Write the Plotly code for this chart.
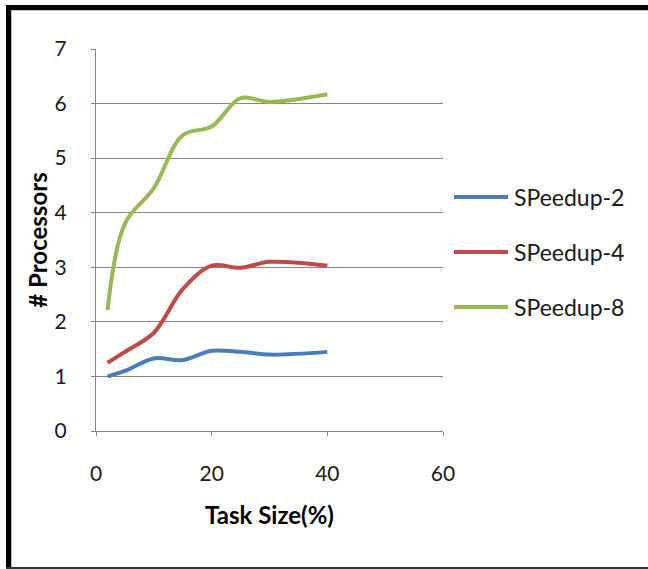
import plotly.graph_objects as go

# Task size (%) on the x axis
task_size = [2, 5, 10, 15, 20, 25, 30, 40]

# Speedup series
speedup_2 = [1.0, 1.1, 1.33, 1.3, 1.47, 1.45, 1.4, 1.45]
speedup_4 = [1.25, 1.45, 1.8, 2.6, 3.03, 2.99, 3.1, 3.03]
speedup_8 = [2.22, 3.8, 4.45, 5.42, 5.58, 6.1, 6.03, 6.17]

series_names = ["SPeedup-2", "SPeedup-4", "SPeedup-8"]
series_colors = ["#4A7EBB", "#BE4B48", "#98B954"]

x_ticks = [0, 20, 40, 60]
y_ticks = [0, 1, 2, 3, 4, 5, 6, 7]

W, H = 648, 569
L, R, T, B = 96, 443, 49, 431  # plot area in pixels
PW, PH = R - L, B - T


def px_x(px):
    return (px - L) / PW


def px_y(py):
    return (B - py) / PH


FONT = "Lato"

fig = go.Figure()
for name, vals, col in zip(series_names, [speedup_2, speedup_4, speedup_8], series_colors):
    fig.add_trace(go.Scatter(
        x=task_size, y=vals, name=name, mode="lines",
        line=dict(color=col, width=4, shape="spline", smoothing=1.0),
        showlegend=False,
    ))

shapes = []
annotations = []

# legend drawn beside the plot
legend_rows = [197, 252, 307]
for name, col, ry in zip(series_names, series_colors, legend_rows):
    shapes.append(dict(type="line", xref="paper", yref="paper",
                       x0=px_x(454), x1=px_x(508), y0=px_y(ry), y1=px_y(ry),
                       line=dict(color=col, width=4)))
    annotations.append(dict(xref="paper", yref="paper", x=px_x(512), y=px_y(ry),
                            text=name, showarrow=False, xanchor="left", yanchor="middle",
                            font=dict(family=FONT, size=23, color="#1a1a1a")))

# frame around the chart
shapes += [
    dict(type="line", xref="paper", yref="paper", x0=px_x(8.5), x1=px_x(8.5),
         y0=px_y(5), y1=px_y(570), line=dict(color="black", width=5)),
    dict(type="line", xref="paper", yref="paper", x0=px_x(6), x1=px_x(650),
         y0=px_y(7.5), y1=px_y(7.5), line=dict(color="black", width=5)),
    dict(type="line", xref="paper", yref="paper", x0=px_x(11), x1=px_x(650),
         y0=px_y(10.5), y1=px_y(10.5), line=dict(color="#c8c8c8", width=1)),
    dict(type="line", xref="paper", yref="paper", x0=px_x(11.5), x1=px_x(11.5),
         y0=px_y(10), y1=px_y(570), line=dict(color="#c8c8c8", width=1)),
    dict(type="line", xref="paper", yref="paper", x0=px_x(6), x1=px_x(650),
         y0=px_y(568), y1=px_y(568), line=dict(color="#333333", width=2)),
]

axis_common = dict(
    showline=True, linecolor="#868686", linewidth=1,
    ticks="outside", ticklen=4, tickcolor="#868686",
    tickfont=dict(family=FONT, size=21, color="#1a1a1a"),
    zeroline=False,
)

fig.update_layout(
    width=W, height=H,
    margin=dict(l=L, r=W - R, t=T, b=H - B),
    paper_bgcolor="white", plot_bgcolor="white",
    shapes=shapes, annotations=annotations,
    xaxis=dict(range=[0, 60], tickvals=x_ticks, showgrid=False,
               ticklabelstandoff=20,
               title=dict(text="<b>Task Size(%)</b>", standoff=22,
                          font=dict(family=FONT, size=24, color="black")),
               **axis_common),
    yaxis=dict(range=[0, 7], tickvals=y_ticks, showgrid=True,
               gridcolor="#868686", gridwidth=1, ticklabelstandoff=20,
               title=dict(text="<b># Processors</b>", standoff=0,
                          font=dict(family=FONT, size=24, color="black")),
               **axis_common),
)

fig.write_html("out.html")
